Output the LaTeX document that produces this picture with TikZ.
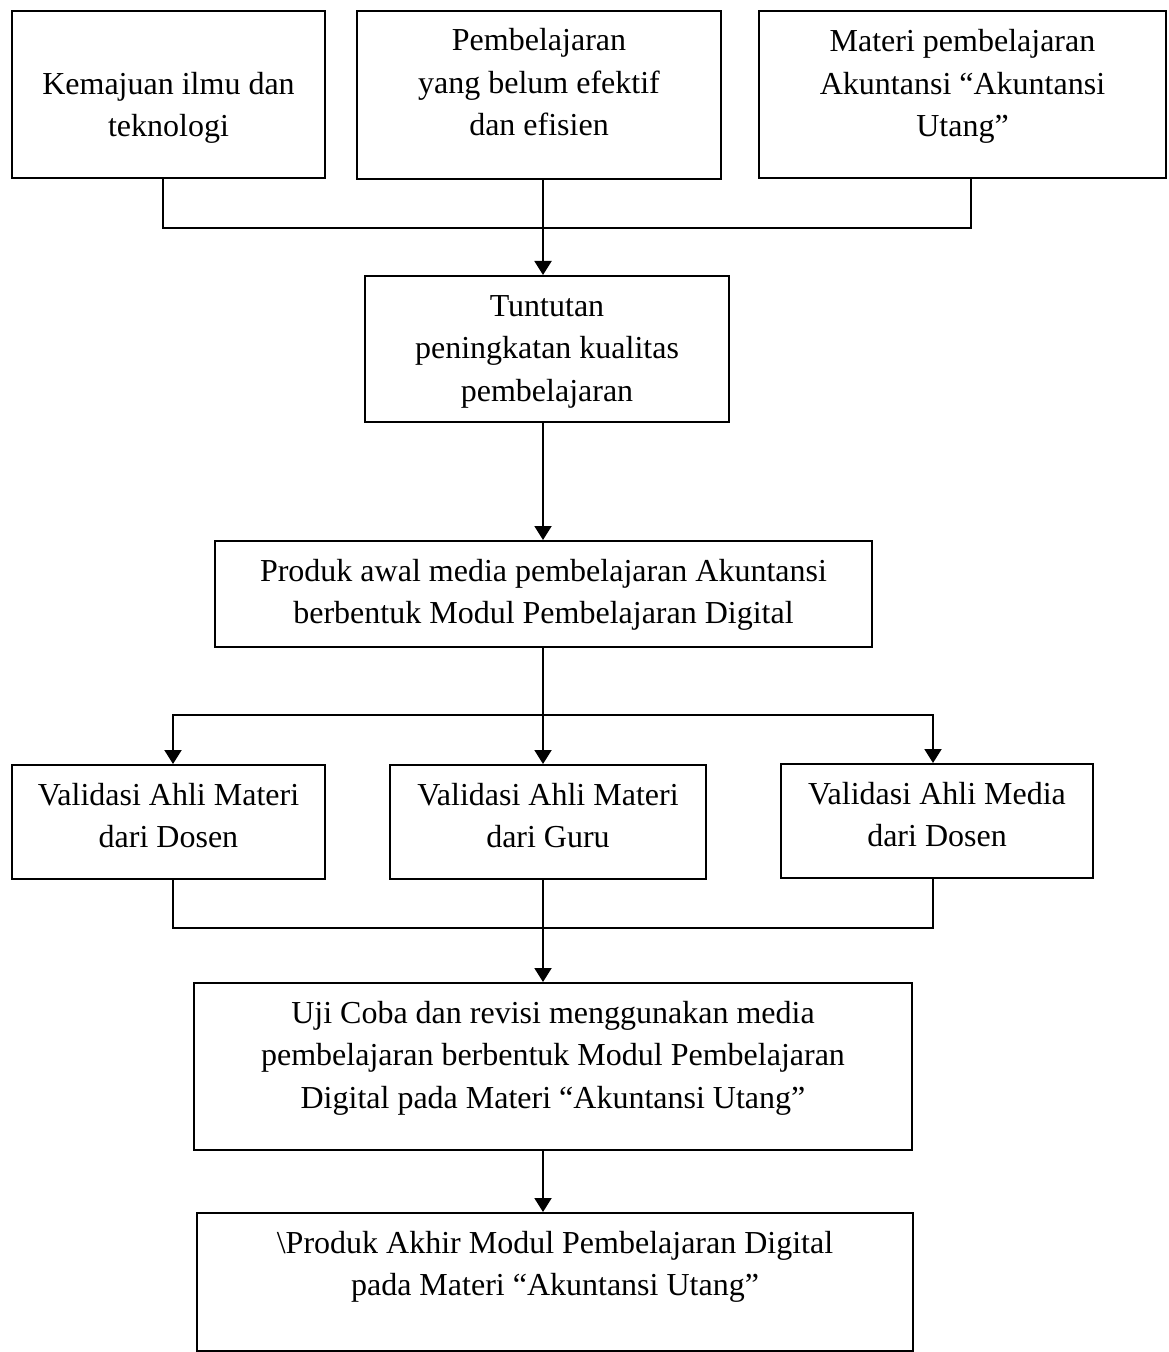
\documentclass[tikz,border=0pt]{standalone}
\usepackage{fontspec}
\setmainfont{Liberation Serif}
\usetikzlibrary{arrows.meta}
\tikzstyle{box}=[draw,line width=1pt,inner sep=0pt,align=center,font=\fontsize{16}{21.25}\selectfont]
\tikzstyle{joinline}=[draw,line width=1pt]
\tikzstyle{edge}=[draw,line width=1pt,-{Triangle[length=7pt,width=8.5pt]}]
\newcommand{\toppad}[1]{\rule{0pt}{#1pt}}
\newcommand{\botpad}[1]{\rule[-#1pt]{0pt}{#1pt}}

\begin{document}
\begin{tikzpicture}[x=0.5pt,y=-0.5pt]
\useasboundingbox (0,0) rectangle (1168,1352);

% top row
\node[box,minimum width=156.5pt,minimum height=83.5pt] (kemajuan) at (168.5,94.5) {\toppad{25}Kemajuan ilmu dan\\teknologi\botpad{4}};
\node[box,minimum width=182pt,minimum height=84pt] (belumefektif) at (539,95) {\toppad{12}Pembelajaran\\yang belum efektif\\dan efisien\botpad{13.5}};
\node[box,minimum width=203.5pt,minimum height=83.5pt] (materi) at (962.5,94.5) {\toppad{12}Materi pembelajaran\\Akuntansi “Akuntansi\\Utang”\botpad{12}};

% joins
\coordinate (droptop) at (543,228);
\coordinate (dropA) at (163,228);
\coordinate (dropC) at (971,228);
\coordinate (jmid) at (543,715);
\coordinate (dropF) at (173,715);
\coordinate (dropH) at (933,715);
\coordinate (jlow) at (543,928);

% middle column
\node[box,minimum width=182pt,minimum height=73pt] (tuntutan) at (547,349) {\toppad{13.5}Tuntutan\\peningkatan kualitas\\pembelajaran\botpad{4}};
\node[box,minimum width=328.5pt,minimum height=53pt] (produkawal) at (543.5,594) {\toppad{12.25}Produk awal media pembelajaran Akuntansi\\berbentuk Modul Pembelajaran Digital\botpad{4}};

% validation row
\foreach \pos/\name/\boxw/\txt in {{(168.5,822)/valdosen/156.5/{Validasi Ahli Materi\\dari Dosen}},
    {(548,822)/valguru/158/{Validasi Ahli Materi\\dari Guru}},
    {(937,821)/valmedia/156/{Validasi Ahli Media\\dari Dosen}}}
  \node[box,minimum width=\boxw pt,minimum height=57pt] (\name) at \pos {\toppad{12.25}\txt\botpad{8}};

% bottom column
\node[box,minimum width=359pt,minimum height=83.5pt] (ujicoba) at (553,1066.5) {\toppad{12}Uji Coba dan revisi menggunakan media\\pembelajaran berbentuk Modul Pembelajaran\\Digital pada Materi “Akuntansi Utang”\botpad{13}};
\node[box,minimum width=358pt,minimum height=69pt] (produkakhir) at (555,1282) {\toppad{12}\textbackslash Produk Akhir Modul Pembelajaran Digital\\pada Materi “Akuntansi Utang”\botpad{19.75}};

% connectors
\path[joinline] (kemajuan.south -| dropA) -- (dropA) -- (dropC) -- (materi.south -| dropC);
\path[edge] (belumefektif.south -| droptop) -- (tuntutan.north -| droptop);
\path[edge] (tuntutan.south -| droptop) -- (produkawal.north -| droptop);

\path[edge] (produkawal.south -| jmid) -- (valguru.north -| jmid);
\path[edge] (jmid) -| (valdosen.north -| dropF);
\path[edge] (jmid) -| (valmedia.north -| dropH);

\path[joinline] (valdosen.south -| dropF) |- (jlow) -| (valmedia.south -| dropH);
\path[edge] (valguru.south -| jlow) -- (ujicoba.north -| jlow);
\path[edge] (ujicoba.south -| jlow) -- (produkakhir.north -| jlow);

\end{tikzpicture}
\end{document}
